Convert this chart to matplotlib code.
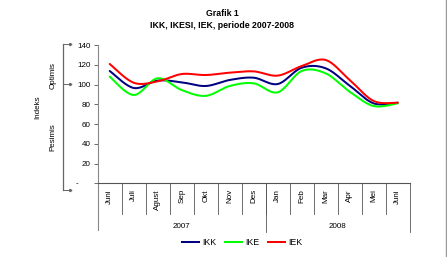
import numpy as np
import matplotlib
matplotlib.use("Agg")
import matplotlib.pyplot as plt
from matplotlib.lines import Line2D

plt.rcParams['font.family'] = ['Liberation Sans', 'DejaVu Sans']

months = ["Juni", "Juli", "Agust", "Sep", "Okt", "Nov", "Des",
          "Jan", "Feb", "Mar", "Apr", "Mei", "Juni"]
years = ["2007", "2008"]
year_counts = [7, 6]
ikk = [113.7, 96.5, 104.0, 102.2, 98.5, 104.6, 106.9, 100.5, 117.0, 116.4, 98.8, 80.9, 81.6]
ike = [108.0, 89.4, 106.3, 94.4, 88.5, 98.5, 101.2, 92.1, 113.7, 111.3, 92.7, 78.2, 81.0]
iek = [120.8, 101.8, 103.2, 110.6, 109.6, 112.0, 113.3, 109.0, 118.7, 124.8, 104.6, 83.3, 81.6]
series = [("IKK", ikk, "#000080"), ("IKE", ike, "#00FF00"), ("IEK", iek, "#FF0000")]
yticks = [0, 20, 40, 60, 80, 100, 120, 140]
ytick_labels = ["", "20", "40", "60", "80", "100", "120", "140"]

W, H = 447, 257
fig = plt.figure(figsize=(W / 100, H / 100), dpi=100)


def fx(x):
    return x / W


def fy(y):
    return 1 - y / H


ax_l, ax_r, ax_t, ax_b = 97.7, 409.7, 45.0, 183.3
ax = fig.add_axes([fx(ax_l), fy(ax_b), fx(ax_r) - fx(ax_l), fy(ax_t) - fy(ax_b)])


def smooth(xs, ys, n=20):
    xs = np.asarray(xs, float)
    ys = np.asarray(ys, float)
    P = np.column_stack([xs, ys])
    P = np.vstack([P[0], P, P[-1]])
    out = []
    t = np.linspace(0, 1, n)[:, None]
    for i in range(1, len(P) - 2):
        p0, p1, p2, p3 = P[i - 1], P[i], P[i + 1], P[i + 2]
        c1 = p1 + (p2 - p0) / 6
        c2 = p2 - (p3 - p1) / 6
        seg = ((1 - t) ** 3) * p1 + 3 * ((1 - t) ** 2) * t * c1 + 3 * (1 - t) * t ** 2 * c2 + t ** 3 * p2
        out.append(seg if i == 1 else seg[1:])
    out = np.vstack(out)
    return out[:, 0], out[:, 1]


x = np.arange(len(months))
for name, vals, col in series:
    sx, sy = smooth(x, vals)
    ax.plot(sx, sy, color=col, lw=1.45, solid_capstyle='round')

ax.set_xlim(-0.5, len(months) - 0.5)
ax.set_ylim(0, 140)
ax.set_yticks(yticks)
ax.set_yticklabels(ytick_labels)
ax.tick_params(axis='y', direction='out', length=3, width=0.6, labelsize=5.8, pad=2,
               color='#555555')
ax.set_xticks([])
for s in ['top', 'right']:
    ax.spines[s].set_visible(False)
ax.spines['left'].set_color('#888888')
ax.spines['left'].set_linewidth(0.8)
ax.spines['bottom'].set_color('#555555')
ax.spines['bottom'].set_linewidth(0.8)

# zero label "-"
ax.text(fx(77), fy(183.3), "-", transform=fig.transFigure, ha='center', va='center', fontsize=5.8)

# category table below axis
trans = ax.get_xaxis_transform()
h = ax_b - ax_t
def ay(ypix):
    return -(ypix - ax_b) / h

# left axis extension
ax.plot([-0.5, -0.5], [0, ay(230)], transform=trans, clip_on=False, color='#888888', lw=0.8)
for i in range(1, len(months)):
    ax.plot([i - 0.5, i - 0.5], [0, ay(213.5)], transform=trans, clip_on=False,
            color='#555555', lw=0.6)
start = 0
for yr, cnt in zip(years, year_counts):
    end = start + cnt
    ax.plot([end - 0.5, end - 0.5], [0, ay(232)], transform=trans, clip_on=False,
            color='#555555', lw=0.6)
    ax.text((start + end - 1) / 2, ay(226.5), yr, transform=trans, ha='center', va='center',
            fontsize=5.8)
    start = end
for i, m in enumerate(months):
    ax.text(i, ay(189), m, transform=trans, rotation=90, ha='center', va='top', fontsize=5.8)

# title
fig.text(fx(222), fy(13.5), "Grafik 1", ha='center', va='center', fontsize=6.3, fontweight='bold')
fig.text(fx(222), fy(25), "IKK, IKESI, IEK, periode 2007-2008", ha='center', va='center',
         fontsize=6.3, fontweight='bold')

# left labels
fig.text(fx(37.5), fy(106.7), "Indeks", rotation=90, ha='center', va='center', fontsize=5.8)
fig.text(fx(53), fy(75), "Optimis", rotation=90, ha='center', va='center', fontsize=5.8)
fig.text(fx(53), fy(136.7), "Pesimis", rotation=90, ha='center', va='center', fontsize=5.8)

# bracket
bc = '#666666'
fig.add_artist(Line2D([fx(63.3), fx(63.3)], [fy(44), fy(189.5)], transform=fig.transFigure,
                      color=bc, lw=0.9))
for yy in [44, 84.5, 189.5]:
    fig.add_artist(Line2D([fx(63.3), fx(70)], [fy(yy), fy(yy)], transform=fig.transFigure,
                          color=bc, lw=0.7))
    fig.add_artist(Line2D([fx(70)], [fy(yy)], transform=fig.transFigure, color=bc,
                          marker=(3, 0, -90), markersize=2, lw=0))

# right border
fig.add_artist(Line2D([fx(445.5), fx(445.5)], [0, 1], transform=fig.transFigure,
                      color='#999999', lw=1.0))

# legend
handles = [Line2D([], [], color=c, lw=1.45) for _, _, c in series]
labels = [n for n, _, _ in series]
fig.legend(handles, labels, loc='center', bbox_to_anchor=(fx(242), fy(242.3)), ncol=3,
           frameon=False, fontsize=6.3, handlelength=2.0, handletextpad=0.3,
           columnspacing=1.0)

fig.savefig("out.png", dpi=100)
